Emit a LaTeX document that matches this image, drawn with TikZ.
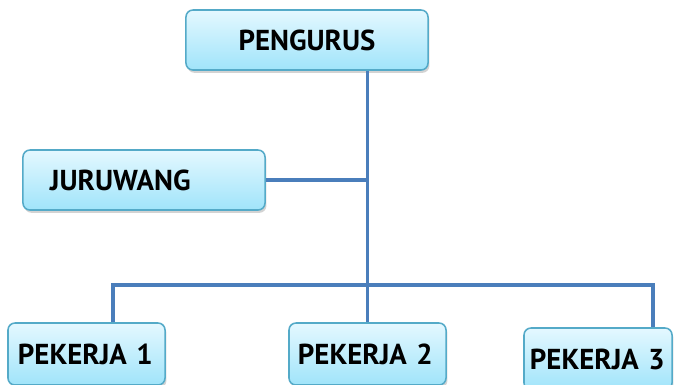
\documentclass[tikz,border=0pt]{standalone}
\usepackage{fontspec}
\setmainfont{PT Sans}
\usetikzlibrary{shadows}
\definecolor{boxline}{RGB}{84,170,200}
\definecolor{boxtop}{RGB}{228,248,255}
\definecolor{boxbottom}{RGB}{160,228,250}
\definecolor{linkblue}{RGB}{74,126,187}
\tikzset{
  unitbox/.style={draw=boxline, line width=1.1pt, rounded corners=5pt,
    top color=boxtop, bottom color=boxbottom, minimum height=1.5cm,
    font=\fontsize{20.5}{23}\selectfont\bfseries,
    drop shadow={shadow xshift=1pt, shadow yshift=-2pt, opacity=0.35}},
  link/.style={draw=linkblue, line width=2.2pt}
}

\begin{document}
\begin{tikzpicture}[x=0.025cm, y=-0.025cm]
    \useasboundingbox (0,0) rectangle (675,384);
    \clip (0,0) rectangle (675,384);
    % Top box
    \node[unitbox, minimum width=6.05cm] (pengurus) at (307,40) {PENGURUS};
    % Side box
    \node[unitbox, text width=4.7cm, inner xsep=0.675cm, align=left] (juruwang) at (144,180) {JURUWANG};
    % Bottom row
    \node[unitbox, minimum height=1.55cm, text width=3.425cm, inner xsep=0.25cm, align=left] (pekerja1) at (86.5,354) {PEKERJA 1};
    \node[unitbox, minimum height=1.55cm, text width=3.475cm, inner xsep=0.225cm, align=left] (pekerja2) at (367.5,354) {PEKERJA 2};
    \node[unitbox, minimum height=1.55cm, text width=3.4cm, inner xsep=0.15cm, align=left] (pekerja3) at (598,359) {PEKERJA 3};
    % Connectors
    \coordinate (barL) at (113,285);
    \coordinate (barR) at (653,285);
    \draw[link] (pengurus.south -| pekerja2.north) -- (pekerja2.north);
    \draw[link] (juruwang.east) -- (juruwang.east -| pekerja2.north);
    \draw[link] (pekerja1.north -| barL) -- (barL) -- (barR) -- (pekerja3.north -| barR);
\end{tikzpicture}
\end{document}
